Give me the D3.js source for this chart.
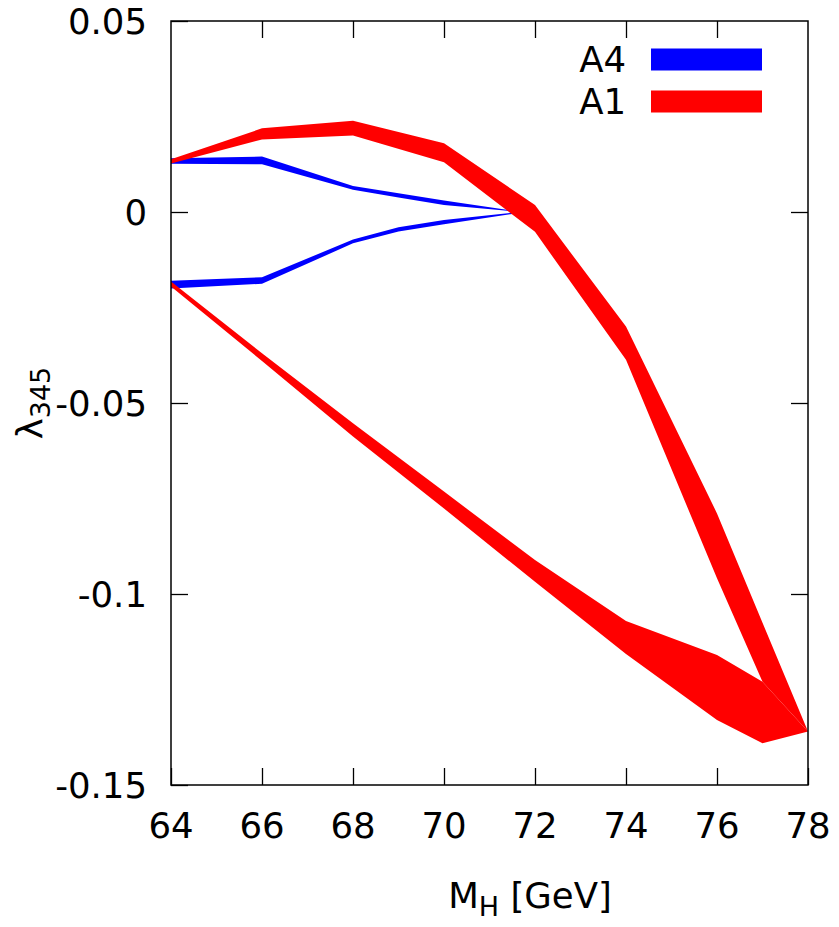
<!DOCTYPE html>
<html>
<head>
<meta charset="utf-8">
<script src="https://cdn.jsdelivr.net/npm/d3@7"></script>
<style>
  body { margin: 0; background: #fff; }
  text { font-family: "DejaVu Sans", sans-serif; fill: #000; }
</style>
</head>
<body>
<div id="chart"></div>
<script>
// M_H grid points and the band edges
var mhA4 = [64, 66, 68, 69, 70, 71.5];
var a4UpperHi = [0.0141, 0.0145, 0.0068, 0.0049, 0.0030, 0.0004];
var a4UpperLo = [0.0126, 0.0125, 0.0058, 0.0038, 0.0018, 0.0002];
var a4LowerHi = [-0.0180, -0.0171, -0.0072, -0.0040, -0.0021, -0.0002];
var a4LowerLo = [-0.0200, -0.0188, -0.0082, -0.0051, -0.0032, -0.0005];

var mhA1 = [64, 66, 68, 70, 72, 74, 76, 77, 78];
var a1UpperHi = [0.0138, 0.0219, 0.0239, 0.0180, 0.0018, -0.0300, -0.0789, -0.1075, -0.1360];
var a1UpperLo = [0.0127, 0.0190, 0.0200, 0.0130, -0.0052, -0.0387, -0.0959, -0.1230, -0.1360];
var a1LowerHi = [-0.0182, -0.0370, -0.0553, -0.0732, -0.0911, -0.1071, -0.1160, -0.1230, -0.1360];
var a1LowerLo = [-0.0195, -0.0390, -0.0588, -0.0776, -0.0968, -0.1157, -0.1330, -0.1391, -0.1360];

var xTicks = [64, 66, 68, 70, 72, 74, 76, 78];
var yTicks = [0.05, 0, -0.05, -0.1, -0.15];
var yTickLabels = ["0.05", "0", "-0.05", "-0.1", "-0.15"];
var seriesNames = ["A4", "A1"];
var seriesColors = ["#0000ff", "#ff0000"];

var width = 839, height = 927;
var margin = { top: 21, right: 31, bottom: 142, left: 171 };
var w = width - margin.left - margin.right,
    h = height - margin.top - margin.bottom;

var svg = d3.select("#chart").append("svg")
  .attr("width", width)
  .attr("height", height);

var g = svg.append("g")
  .attr("transform", "translate(" + margin.left + "," + margin.top + ")");

var x = d3.scaleLinear().domain([64, 78]).range([0, w]);
var y = d3.scaleLinear().domain([-0.15, 0.05]).range([h, 0]);

var area = d3.area()
  .x(function(d) { return x(d.mh); })
  .y0(function(d) { return y(d.lo); })
  .y1(function(d) { return y(d.hi); });

function band(mh, hi, lo, color)
{
  var pts = mh.map(function(m, i) { return { mh: m, hi: hi[i], lo: lo[i] }; });
  g.append("path")
    .attr("d", area(pts))
    .attr("fill", color);
}

// A4 first, A1 drawn on top
band(mhA4, a4UpperHi, a4UpperLo, seriesColors[0]);
band(mhA4, a4LowerHi, a4LowerLo, seriesColors[0]);
band(mhA1, a1UpperHi, a1UpperLo, seriesColors[1]);
band(mhA1, a1LowerHi, a1LowerLo, seriesColors[1]);

// axes with inward ticks on all four sides
var tickLen = 17;
var fs = 35.5;

var xAxis = d3.axisBottom(x).tickValues(xTicks).tickSize(-tickLen).tickFormat("");
var xAxisTop = d3.axisTop(x).tickValues(xTicks.slice(1, -1)).tickSize(-tickLen).tickFormat("");
var yAxis = d3.axisLeft(y).tickValues(yTicks).tickSize(-tickLen).tickFormat("");
var yAxisRight = d3.axisRight(y).tickValues(yTicks.slice(1, -1)).tickSize(-tickLen).tickFormat("");

g.append("g").attr("transform", "translate(0," + h + ")").call(xAxis);
g.append("g").call(xAxisTop);
g.append("g").call(yAxis);
g.append("g").attr("transform", "translate(" + w + ",0)").call(yAxisRight);
g.selectAll(".domain").remove();
g.selectAll(".tick line").attr("stroke", "#000").attr("stroke-width", 1.3);

g.append("rect")
  .attr("width", w)
  .attr("height", h)
  .attr("fill", "none")
  .attr("stroke", "#000")
  .attr("stroke-width", 1.5);

// tick labels
g.selectAll(".xlab")
  .data(xTicks)
  .enter().append("text")
  .attr("x", function(d) { return x(d); })
  .attr("y", h + 53)
  .attr("text-anchor", "middle")
  .style("font-size", fs + "px")
  .text(function(d) { return d; });

g.selectAll(".ylab")
  .data(yTicks)
  .enter().append("text")
  .attr("x", -24)
  .attr("y", function(d) { return y(d); })
  .attr("dy", "0.36em")
  .attr("text-anchor", "end")
  .style("font-size", fs + "px")
  .text(function(d, i) { return yTickLabels[i]; });

// axis titles
var xt = svg.append("text")
  .attr("x", 530)
  .attr("y", 908)
  .attr("text-anchor", "middle")
  .style("font-size", fs + "px");
xt.append("tspan").text("M");
xt.append("tspan").attr("dy", 8).style("font-size", "27px").text("H");
xt.append("tspan").attr("dy", -8).text(" [GeV]");

var yt = svg.append("text")
  .attr("transform", "translate(42,403) rotate(-90)")
  .attr("text-anchor", "middle")
  .style("font-size", fs + "px");
yt.append("tspan").text("\u03bb");
yt.append("tspan").attr("dy", 8).style("font-size", "27px").text("345");

// legend
var legend = svg.append("g");
seriesNames.forEach(function(name, i) {
  var cy = 59.5 + i * 42;
  legend.append("text")
    .attr("x", 626)
    .attr("y", cy)
    .attr("dy", "0.36em")
    .attr("text-anchor", "end")
    .style("font-size", fs + "px")
    .text(name);
  legend.append("rect")
    .attr("x", 651)
    .attr("y", cy - 11)
    .attr("width", 111)
    .attr("height", 22)
    .attr("fill", seriesColors[i]);
});
</script>
</body>
</html>
